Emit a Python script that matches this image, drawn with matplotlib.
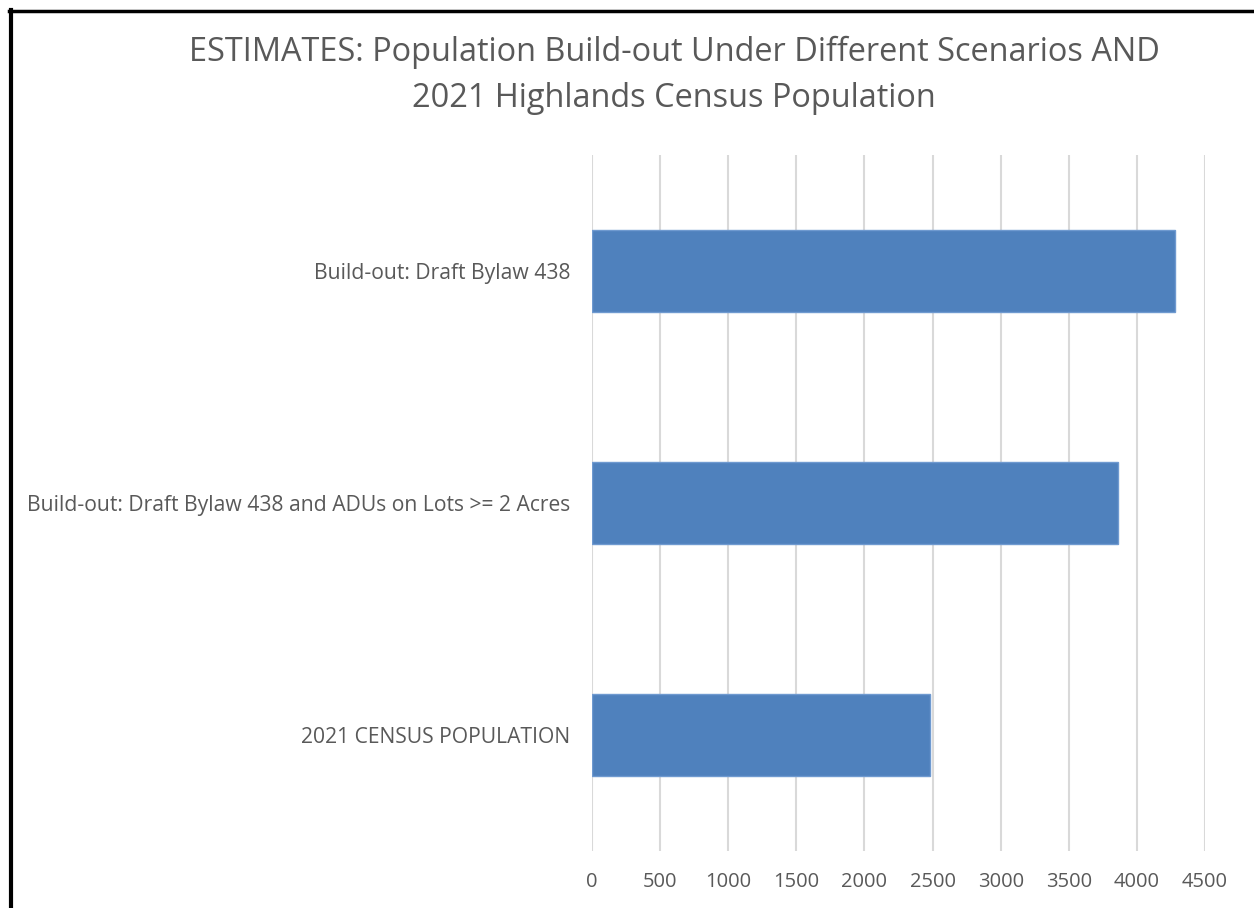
import matplotlib.pyplot as plt
from matplotlib.lines import Line2D

# chart data (top to bottom as shown)
categories = ["Build-out: Draft Bylaw 438",
              "Build-out: Draft Bylaw 438 and ADUs on Lots >= 2 Acres",
              "2021 CENSUS POPULATION"]
population = [4280, 3862, 2482]
xticks = [0, 500, 1000, 1500, 2000, 2500, 3000, 3500, 4000, 4500]

plt.rcParams['font.family'] = ['Open Sans', 'DejaVu Sans']
text_grey = "#595959"

fig = plt.figure(figsize=(12.54, 9.08), dpi=100)
ax = fig.add_axes([0.4721, 0.0628, 0.4889, 0.7665])

ypos = list(range(len(categories)))
ax.barh(ypos, population, height=0.353, color="#4F81BD",
        edgecolor="#6F9AD0", linewidth=1, zorder=3)

ax.set_ylim(len(categories) - 0.5, -0.5)
ax.set_xlim(0, 4500)
ax.set_xticks(xticks)
ax.set_xticklabels([str(t) for t in xticks])
ax.set_yticks(ypos)
ax.set_yticklabels(categories)

ax.grid(axis="x", color="#D9D9D9", linewidth=1.5, zorder=0)
ax.set_axisbelow(True)
for s in ax.spines.values():
    s.set_visible(False)
ax.tick_params(axis="x", length=0, pad=15, labelsize=14.5, labelcolor=text_grey)
ax.tick_params(axis="y", length=0, pad=15.5, labelsize=15.2, labelcolor=text_grey)

fig.text(0.5375, 0.917, "ESTIMATES: Population Build-out Under Different Scenarios AND\n2021 Highlands Census Population",
         ha="center", va="center", fontsize=23.4, color=text_grey, linespacing=1.52)

# frame lines (left and top)
fig.add_artist(Line2D([0.0088, 0.0088], [0, 0.9895], color="black", linewidth=3, transform=fig.transFigure))
fig.add_artist(Line2D([0.0072, 1.0], [0.9884, 0.9884], color="black", linewidth=2.5, transform=fig.transFigure))

fig.savefig("out.png", dpi=100)
